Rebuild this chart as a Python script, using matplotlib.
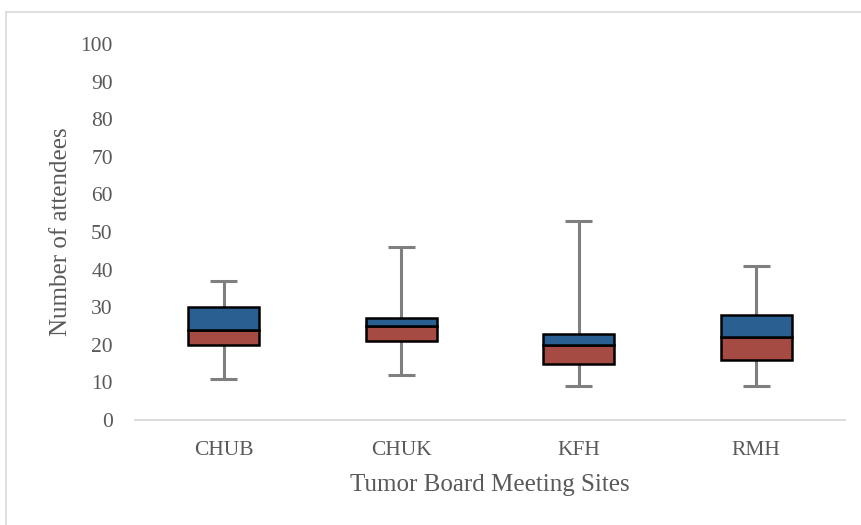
import matplotlib
matplotlib.use("Agg")
import matplotlib.pyplot as plt
from matplotlib.lines import Line2D

sites = ["CHUB", "CHUK", "KFH", "RMH"]
mins = [11, 12, 9, 9]
q1 = [20, 21, 15, 16]
medians = [24, 25, 20, 22]
q3 = [30, 27, 23, 28]
maxs = [37, 46, 53, 41]

plt.rcParams['font.family'] = ['Liberation Serif', 'DejaVu Serif']

fig = plt.figure(figsize=(8.62, 5.25), dpi=100)
ax = fig.add_axes([135 / 862, 1 - 420 / 525, 710 / 862, 376 / 525])

x = list(range(len(sites)))
w = 0.40
lower = [m - a for m, a in zip(medians, q1)]
upper = [b - m for b, m in zip(q3, medians)]

# whiskers behind the boxes
for i in x:
    ax.plot([i, i], [mins[i], maxs[i]], color='#7f7f7f', lw=2.2, zorder=1, solid_capstyle='butt')
    for v in (mins[i], maxs[i]):
        ax.plot([i - 0.075, i + 0.075], [v, v], color='#7f7f7f', lw=2.2, zorder=1, solid_capstyle='butt')

ax.bar(x, lower, bottom=q1, width=w, color='#a64b44', edgecolor='black', linewidth=1.8, zorder=2)
ax.bar(x, upper, bottom=medians, width=w, color='#2a5f92', edgecolor='black', linewidth=1.8, zorder=2)

ax.set_xlim(-0.5, 3.5)
ax.set_ylim(0, 100)
ax.set_yticks(range(0, 101, 10))
ax.set_xticks(x)
ax.set_xticklabels(sites)
ax.tick_params(axis='both', length=0, labelsize=15.5, colors='#595959')
ax.tick_params(axis='y', pad=16)
ax.tick_params(axis='x', pad=15)

for s in ['top', 'right', 'left']:
    ax.spines[s].set_visible(False)
ax.spines['bottom'].set_color('#d9d9d9')
ax.spines['bottom'].set_linewidth(1.3)

ax.set_xlabel('Tumor Board Meeting Sites', fontsize=18, color='#595959', labelpad=10)
ax.set_ylabel('Number of attendees', fontsize=18, color='#595959', labelpad=6)

# outer chart frame
fig.add_artist(Line2D([6.5 / 862, 6.5 / 862], [0, 1 - 11.5 / 525], transform=fig.transFigure, color='#d9d9d9', lw=1.2))
fig.add_artist(Line2D([6.5 / 862, 1], [1 - 11.5 / 525, 1 - 11.5 / 525], transform=fig.transFigure, color='#d9d9d9', lw=1.2))

fig.savefig('out.png', dpi=100)
